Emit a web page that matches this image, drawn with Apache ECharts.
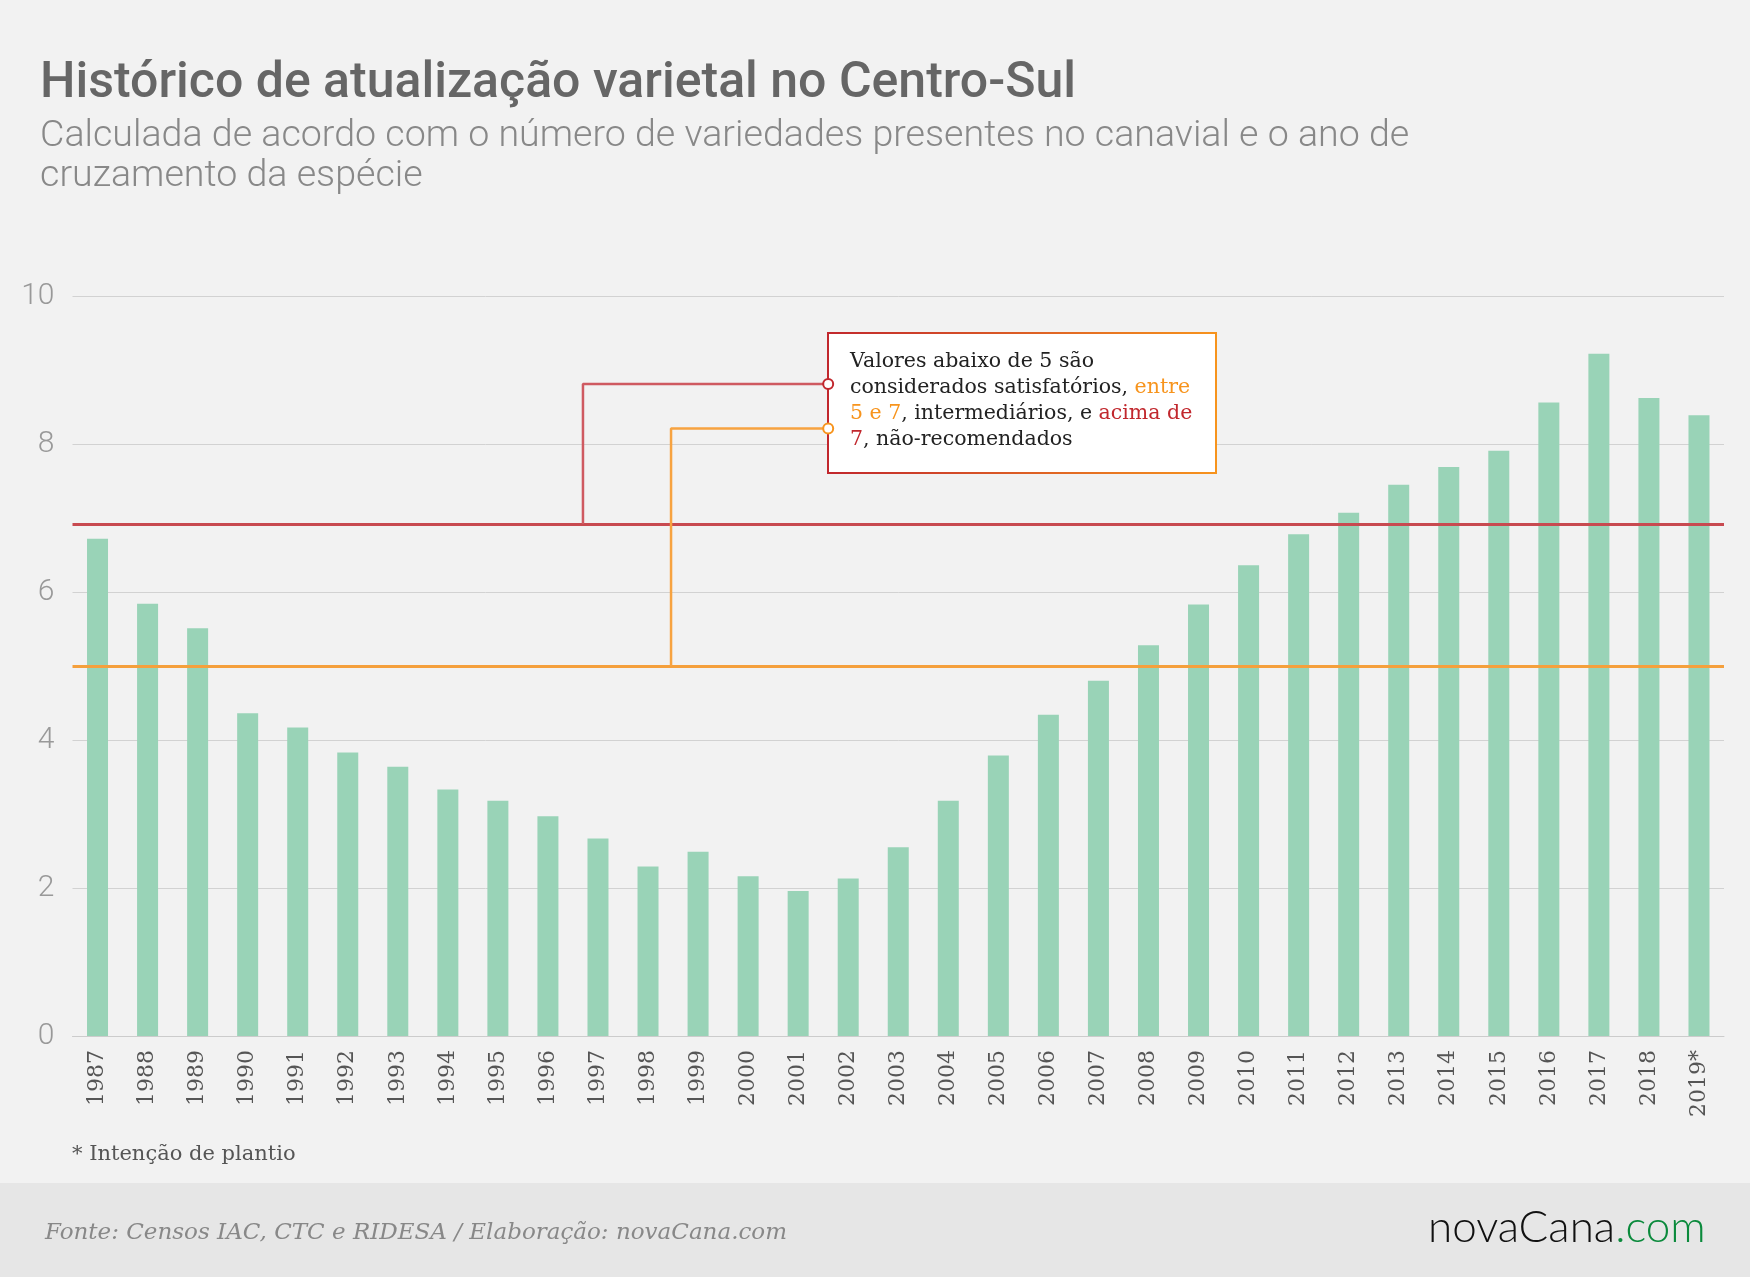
<!DOCTYPE html>
<html>
<head>
<meta charset="utf-8">
<script src="https://cdn.jsdelivr.net/npm/echarts@6/dist/echarts.min.js"></script>
<style>
  html, body { margin: 0; padding: 0; background: #f2f2f2; }
  #chart { width: 1750px; height: 1277px; }
</style>
</head>
<body>
<div id="chart"></div>
<script>
const years = ['1987', '1988', '1989', '1990', '1991', '1992', '1993', '1994', '1995', '1996', '1997',
  '1998', '1999', '2000', '2001', '2002', '2003', '2004', '2005', '2006', '2007', '2008', '2009',
  '2010', '2011', '2012', '2013', '2014', '2015', '2016', '2017', '2018', '2019*'];
const values = [6.72, 5.84, 5.51, 4.36, 4.17, 3.83, 3.64, 3.33, 3.18, 2.97, 2.67,
  2.29, 2.49, 2.16, 1.96, 2.13, 2.55, 3.18, 3.79, 4.34, 4.80, 5.28, 5.83,
  6.36, 6.78, 7.07, 7.45, 7.69, 7.91, 8.56, 9.22, 8.62, 8.39];
const yTicks = [0, 2, 4, 6, 8, 10];
const limiteSatisfatorio = 5;
const limiteRecomendado = 6.92;
// conectores da nota (eixo x auxiliar de 0 a 33)
const conectorVermelho = [[10.2, 6.92], [10.2, 8.81], [15.1, 8.81]];
const conectorLaranja = [[11.96, 5], [11.96, 8.21], [15.1, 8.21]];

const chart = echarts.init(document.getElementById('chart'));
chart.setOption({
  backgroundColor: '#f2f2f2',
  animation: false,
  title: [
    {
      text: 'Histórico de atualização varietal no Centro-Sul',
      left: 40, top: 59, padding: 0,
      textStyle: { fontFamily: 'Roboto', fontWeight: 500, fontSize: 50, color: '#666' }
    },
    {
      text: 'Calculada de acordo com o número de variedades presentes no canavial e o ano de\ncruzamento da espécie',
      left: 40, top: 117, padding: 0,
      textStyle: { fontFamily: 'Roboto', fontWeight: 300, fontSize: 37.6, lineHeight: 40, color: '#888' }
    }
  ],
  grid: { left: 72.5, right: 26, top: 296, bottom: 241 },
  xAxis: [
    {
      type: 'category',
      data: years,
      axisLine: { lineStyle: { color: '#cccccc' } },
      axisTick: { show: false },
      axisLabel: { rotate: 90, margin: 14, fontFamily: 'DejaVu Serif', fontSize: 22, color: '#555' }
    },
    { type: 'value', min: 0, max: 33, show: false }
  ],
  yAxis: {
    type: 'value',
    min: 0, max: 10, interval: 2,
    axisLine: { show: false },
    axisTick: { show: false },
    splitLine: { lineStyle: { color: '#d2d2d2', width: 1 } },
    axisLabel: {
      margin: 18, fontFamily: 'Roboto', fontWeight: 300, fontSize: 30, color: '#999',
      formatter: v => yTicks.includes(v) ? String(v) : ''
    }
  },
  series: [
    {
      type: 'bar',
      data: values,
      barWidth: 21,
      itemStyle: { color: '#99d3b7' },
      markLine: {
        silent: true,
        symbol: 'none',
        label: { show: false },
        data: [
          { yAxis: limiteRecomendado, lineStyle: { color: '#c84a50', width: 3, type: 'solid' } },
          { yAxis: limiteSatisfatorio, lineStyle: { color: '#f5a03c', width: 3, type: 'solid' } }
        ]
      }
    },
    {
      type: 'line', xAxisIndex: 1, z: 6, silent: true,
      data: conectorVermelho,
      lineStyle: { color: '#cf5a61', width: 2.5 },
      symbol: (v, p) => p.dataIndex === 2 ? 'emptyCircle' : 'none',
      symbolSize: 10,
      itemStyle: { color: '#c1272d', borderWidth: 2.5 }
    },
    {
      type: 'line', xAxisIndex: 1, z: 6, silent: true,
      data: conectorLaranja,
      lineStyle: { color: '#f7a340', width: 2.5 },
      symbol: (v, p) => p.dataIndex === 2 ? 'emptyCircle' : 'none',
      symbolSize: 10,
      itemStyle: { color: '#f7941d', borderWidth: 2.5 }
    }
  ],
  graphic: [
    {
      type: 'group', left: 827, top: 332, z: 4,
      children: [
        {
          type: 'rect', z: 4,
          shape: { x: 0, y: 0, width: 388, height: 140 },
          style: {
            fill: '#ffffff',
            lineWidth: 2,
            stroke: {
              type: 'linear', x: 0, y: 0, x2: 1, y2: 0,
              colorStops: [{ offset: 0, color: '#c1272d' }, { offset: 1, color: '#f7941d' }]
            }
          }
        },
        {
          type: 'text', x: 22, y: 16, z: 5,
          style: {
            text: 'Valores abaixo de 5 são\nconsiderados satisfatórios, {o|entre}\n{o|5 e 7}, intermediários, e {r|acima de}\n{r|7}, não-recomendados',
            fill: '#222',
            fontFamily: 'DejaVu Serif', fontSize: 20.5, lineHeight: 26,
            rich: {
              o: { fill: '#f7941d', fontFamily: 'DejaVu Serif', fontSize: 20.5, lineHeight: 26 },
              r: { fill: '#c1272d', fontFamily: 'DejaVu Serif', fontSize: 20.5, lineHeight: 26 }
            }
          }
        }
      ]
    },
    {
      type: 'text', left: 72, top: 1144,
      style: { text: '* Intenção de plantio', fill: '#555', fontFamily: 'DejaVu Serif', fontSize: 21 }
    },
    {
      type: 'rect', left: 0, top: 1183, z: -1,
      shape: { width: 1750, height: 94 },
      style: { fill: '#e6e6e6' }
    },
    {
      type: 'text', left: 45, top: 1222,
      style: {
        text: 'Fonte: Censos IAC, CTC e RIDESA / Elaboração: novaCana.com',
        fill: '#888', fontFamily: 'DejaVu Serif', fontStyle: 'italic', fontSize: 23
      }
    },
    {
      type: 'text', left: 1428, top: 1206,
      style: {
        text: 'novaCana{g|.com}',
        fill: '#111', fontFamily: 'Lato', fontWeight: 300, fontSize: 44,
        rich: { g: { fill: '#0b8a3c', fontFamily: 'Lato', fontWeight: 300, fontSize: 44 } }
      }
    }
  ]
});
</script>
</body>
</html>
